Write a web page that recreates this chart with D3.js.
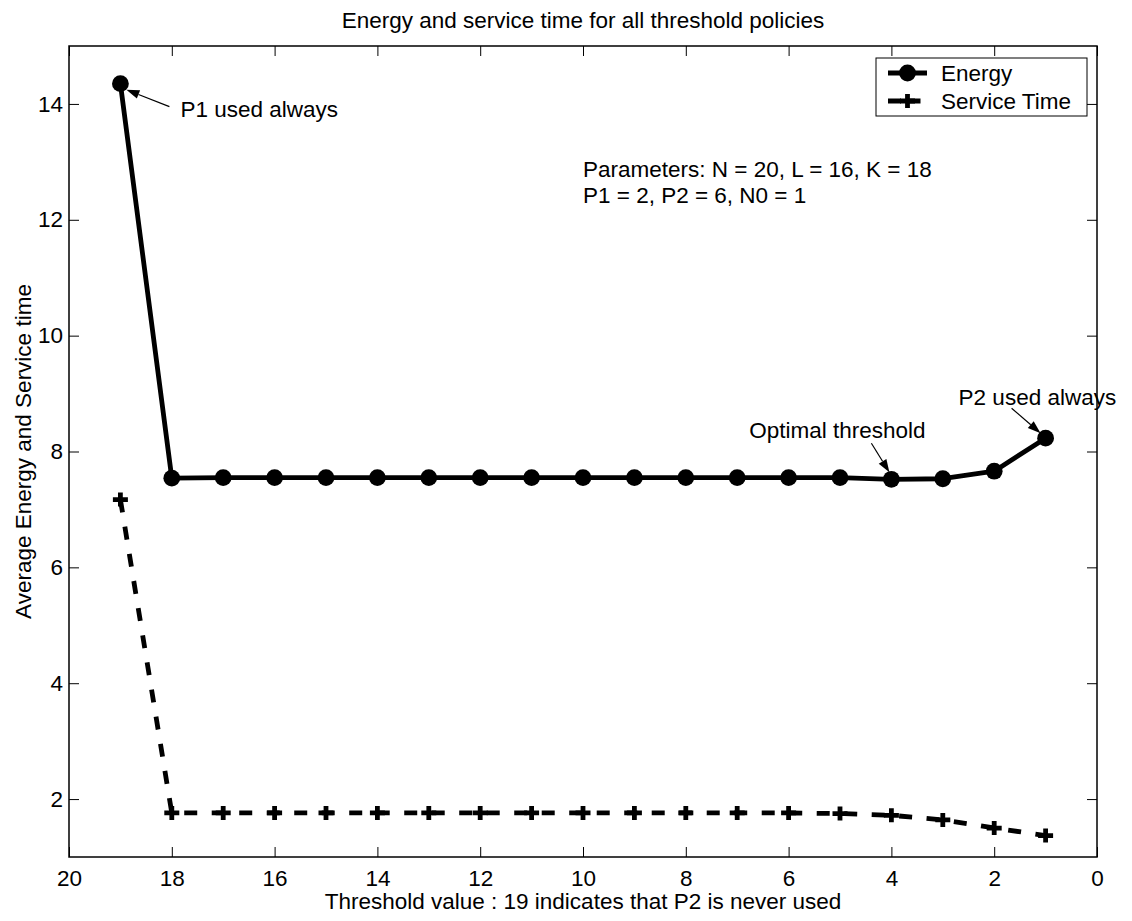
<!DOCTYPE html>
<html>
<head>
<meta charset="utf-8">
<script src="https://cdn.jsdelivr.net/npm/d3@7"></script>
<style>
  html, body { margin: 0; padding: 0; background: #fff; }
  svg { display: block; font-family: "Liberation Sans", Arial, Helvetica, sans-serif; }
</style>
</head>
<body>
<svg id="chart" width="1132" height="921"></svg>
<script>
// Threshold values (19 = P2 never used, 1 = P2 always used)
const thresholds = [19, 18, 17, 16, 15, 14, 13, 12, 11, 10, 9, 8, 7, 6, 5, 4, 3, 2, 1];
// Average energy per threshold policy
const energy = [14.35, 7.54, 7.55, 7.55, 7.55, 7.55, 7.55, 7.55, 7.55, 7.55, 7.55, 7.55, 7.55, 7.55, 7.55, 7.52, 7.53, 7.66, 8.23];
// Average service time per threshold policy
const serviceTime = [7.17, 1.76, 1.76, 1.76, 1.76, 1.76, 1.76, 1.76, 1.76, 1.76, 1.76, 1.76, 1.76, 1.76, 1.75, 1.72, 1.64, 1.50, 1.37];
const xTicks = [20, 18, 16, 14, 12, 10, 8, 6, 4, 2, 0];
const yTicks = [2, 4, 6, 8, 10, 12, 14];
const seriesNames = ["Energy", "Service Time"];

const FONT = 22.5;
const LW = 4.8;
const svg = d3.select("#chart");
const plotLeft = 69, plotRight = 1097, plotTop = 46, plotBottom = 857;

const x = d3.scaleLinear().domain([20, 0]).range([plotLeft, plotRight]);
const y = d3.scaleLinear().domain([1, 15]).range([plotBottom, plotTop]);

// Title
svg.append("text")
  .attr("x", (plotLeft + plotRight) / 2).attr("y", 28)
  .attr("text-anchor", "middle").attr("font-size", FONT)
  .text("Energy and service time for all threshold policies");

// Axes with inward ticks on all four sides
const tickLen = 10;
svg.append("g").attr("transform", `translate(0,${plotBottom})`)
  .call(d3.axisBottom(x).tickValues(xTicks).tickSizeInner(-tickLen).tickSizeOuter(0).tickPadding(13))
  .call(g => g.select(".domain").remove())
  .call(g => g.selectAll("text").attr("font-size", FONT).attr("font-family", null).attr("fill", "#000"));
svg.append("g").attr("transform", `translate(0,${plotTop})`)
  .call(d3.axisTop(x).tickValues(xTicks).tickSizeInner(-tickLen).tickSizeOuter(0).tickFormat(""))
  .call(g => g.select(".domain").remove());
svg.append("g").attr("transform", `translate(${plotLeft},0)`)
  .call(d3.axisLeft(y).tickValues(yTicks).tickSizeInner(-tickLen).tickSizeOuter(0).tickPadding(6))
  .call(g => g.select(".domain").remove())
  .call(g => g.selectAll("text").attr("font-size", FONT).attr("font-family", null).attr("fill", "#000"));
svg.append("g").attr("transform", `translate(${plotRight},0)`)
  .call(d3.axisRight(y).tickValues(yTicks).tickSizeInner(-tickLen).tickSizeOuter(0).tickFormat(""))
  .call(g => g.select(".domain").remove());
svg.selectAll(".tick line").attr("stroke", "#000").attr("stroke-width", 1);

// Plot frame
svg.append("rect")
  .attr("x", plotLeft).attr("y", plotTop).attr("width", plotRight - plotLeft).attr("height", plotBottom - plotTop)
  .attr("fill", "none").attr("stroke", "#000").attr("stroke-width", 1.5);

// Axis labels
svg.append("text")
  .attr("x", (plotLeft + plotRight) / 2).attr("y", 909)
  .attr("text-anchor", "middle").attr("font-size", FONT)
  .text("Threshold value : 19 indicates that P2 is never used");
svg.append("text")
  .attr("transform", `translate(31,${(plotTop + plotBottom) / 2}) rotate(-90)`)
  .attr("text-anchor", "middle").attr("font-size", FONT)
  .text("Average Energy and Service time");

const line = d3.line().x(d => x(d[0])).y(d => y(d[1]));
const energyPts = thresholds.map((t, i) => [t, energy[i]]);
const servicePts = thresholds.map((t, i) => [t, serviceTime[i]]);

// Service time: dashed line with plus markers
svg.append("path").datum(servicePts)
  .attr("d", line).attr("fill", "none").attr("stroke", "#000")
  .attr("stroke-width", LW).attr("stroke-dasharray", "13,14.5");
const plus = (g, cx, cy) => g.append("path")
  .attr("d", `M${cx - 7.5},${cy}H${cx + 7.5}M${cx},${cy - 7}V${cy + 7}`)
  .attr("stroke", "#000").attr("stroke-width", LW).attr("fill", "none");
const plusG = svg.append("g");
servicePts.forEach(d => plus(plusG, x(d[0]), y(d[1])));

// Energy: solid line with filled circles
svg.append("path").datum(energyPts)
  .attr("d", line).attr("fill", "none").attr("stroke", "#000")
  .attr("stroke-width", LW).attr("stroke-linejoin", "round");
svg.append("g").selectAll("circle").data(energyPts).join("circle")
  .attr("cx", d => x(d[0])).attr("cy", d => y(d[1])).attr("r", 8.4).attr("fill", "#000");

// Arrow annotation: tip/tail offsets are in pixels from the marked point
function arrow(px, py, tip, tail) {
  const tx = px + tip[0], ty = py + tip[1];
  const sx = px + tail[0], sy = py + tail[1];
  const ang = Math.atan2(ty - sy, tx - sx);
  const hl = 13, hw = 4.5;
  const bx = tx - hl * Math.cos(ang), by = ty - hl * Math.sin(ang);
  svg.append("line").attr("x1", sx).attr("y1", sy).attr("x2", bx).attr("y2", by)
    .attr("stroke", "#000").attr("stroke-width", 1.2);
  const nx = -Math.sin(ang) * hw, ny = Math.cos(ang) * hw;
  svg.append("path")
    .attr("d", `M${tx},${ty}L${bx + nx},${by + ny}L${bx - nx},${by - ny}Z`)
    .attr("fill", "#000");
}

const first = energyPts[0];
const optimal = energyPts[thresholds.indexOf(4)];
const last = energyPts[energyPts.length - 1];

arrow(x(first[0]), y(first[1]), [6, 6], [49, 23]);
svg.append("text").attr("x", x(first[0]) + 60).attr("y", y(first[1]) + 33)
  .attr("font-size", FONT).text("P1 used always");

arrow(x(optimal[0]), y(optimal[1]), [-2, -7], [-20, -36]);
svg.append("text").attr("x", x(optimal[0]) - 54).attr("y", y(optimal[1]) - 41)
  .attr("text-anchor", "middle").attr("font-size", FONT).text("Optimal threshold");

arrow(x(last[0]), y(last[1]), [-5, -5], [-34, -30]);
svg.append("text").attr("x", x(last[0]) - 87).attr("y", y(last[1]) - 33)
  .attr("font-size", FONT).text("P2 used always");

// Parameter note
const note = svg.append("text").attr("font-size", FONT);
note.append("tspan").attr("x", 583).attr("y", 177).text("Parameters: N = 20, L = 16, K = 18");
note.append("tspan").attr("x", 583).attr("y", 203).text("P1 = 2, P2 = 6, N0 = 1");

// Legend
const lg = svg.append("g");
lg.append("rect").attr("x", 876).attr("y", 58).attr("width", 211).attr("height", 58)
  .attr("fill", "#fff").attr("stroke", "#000").attr("stroke-width", 1);
const rows = [73, 101];
lg.append("line").attr("x1", 888).attr("x2", 927).attr("y1", rows[0]).attr("y2", rows[0])
  .attr("stroke", "#000").attr("stroke-width", LW);
lg.append("circle").attr("cx", 907.5).attr("cy", rows[0]).attr("r", 8.4).attr("fill", "#000");
lg.append("line").attr("x1", 888).attr("x2", 927).attr("y1", rows[1]).attr("y2", rows[1])
  .attr("stroke", "#000").attr("stroke-width", LW).attr("stroke-dasharray", "13,6.5");
plus(lg, 907.5, rows[1]);
seriesNames.forEach((n, i) => lg.append("text")
  .attr("x", 941).attr("y", rows[i] + 8).attr("font-size", FONT).text(n));
</script>
</body>
</html>
